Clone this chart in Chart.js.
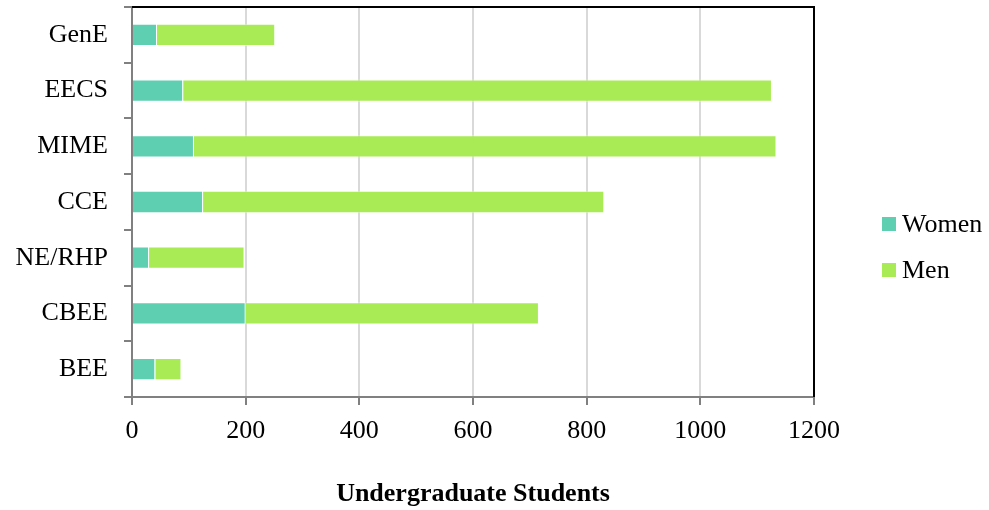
<!DOCTYPE html>
<html>
<head>
<meta charset="utf-8">
<script src="https://cdn.jsdelivr.net/npm/chart.js@4.4.0/dist/chart.umd.min.js"></script>
<style>
  html, body { margin: 0; padding: 0; background: #fff; }
  #wrap { width: 989px; height: 510px; }
</style>
</head>
<body>
<div id="wrap"><canvas id="chart"></canvas></div>
<script>
// Undergraduate enrollment by program, split by gender
const programs = ['GenE', 'EECS', 'MIME', 'CCE', 'NE/RHP', 'CBEE', 'BEE'];
const women = [44, 90, 109, 125, 30, 200, 41];
const men = [208, 1036, 1025, 706, 168, 516, 46];
const xTicks = [0, 200, 400, 600, 800, 1000, 1200];

const SERIF = "'Liberation Serif', 'Times New Roman', serif";

// Frame (top/right in black) and a plain square-marker legend at the side
const frameAndLegend = {
  id: 'frameAndLegend',
  afterDraw(chart) {
    const { ctx, chartArea: a } = chart;
    ctx.save();
    ctx.strokeStyle = '#000';
    ctx.lineWidth = 2;
    ctx.beginPath();
    ctx.moveTo(a.left, a.top);
    ctx.lineTo(a.right, a.top);
    ctx.lineTo(a.right, a.bottom);
    ctx.stroke();

    const x = a.right + 68;
    let y = 224;
    ctx.font = '26px ' + SERIF;
    ctx.textBaseline = 'middle';
    ctx.textAlign = 'left';
    chart.data.datasets.forEach(ds => {
      ctx.fillStyle = ds.backgroundColor;
      ctx.fillRect(x, y - 7, 14, 14);
      ctx.fillStyle = '#000';
      ctx.fillText(ds.label, x + 20, y + 1);
      y += 46;
    });
    ctx.restore();
  }
};

new Chart(document.getElementById('chart'), {
  type: 'bar',
  data: {
    labels: programs,
    datasets: [
      {
        label: 'Women',
        data: women,
        backgroundColor: '#5ecfb1',
        borderColor: 'rgba(255,255,255,0.5)',
        borderWidth: 1,
        barPercentage: 0.4,
        categoryPercentage: 1
      },
      {
        label: 'Men',
        data: men,
        backgroundColor: '#a8eb55',
        borderColor: 'rgba(255,255,255,0.5)',
        borderWidth: 1,
        barPercentage: 0.4,
        categoryPercentage: 1
      }
    ]
  },
  options: {
    indexAxis: 'y',
    responsive: true,
    maintainAspectRatio: false,
    animation: false,
    layout: { padding: { top: 7, right: 175, left: 0, bottom: 0 } },
    plugins: {
      legend: { display: false },
      tooltip: { enabled: false }
    },
    scales: {
      x: {
        stacked: true,
        min: 0,
        max: 1200,
        afterBuildTicks(scale) {
          scale.ticks = xTicks.map(v => ({ value: v }));
        },
        afterFit(scale) { scale.height = 113; },
        grid: {
          color: '#d9d9d9',
          lineWidth: 2,
          tickColor: '#808080',
          tickLength: 8,
          tickWidth: 2
        },
        border: { color: '#808080', width: 2 },
        ticks: {
          color: '#000',
          padding: 11,
          maxRotation: 0,
          callback: v => String(v),
          font: { family: SERIF, size: 26 }
        },
        title: {
          display: true,
          text: 'Undergraduate Students',
          color: '#000',
          padding: { top: 0, bottom: 0 },
          font: { family: SERIF, size: 26, weight: 'bold' }
        }
      },
      y: {
        stacked: true,
        afterFit(scale) {
          scale.width = 132;
          scale.paddingTop = 0;
          scale.paddingBottom = 0;
        },
        grid: {
          drawOnChartArea: false,
          offset: true,
          color: '#808080',
          lineWidth: 2,
          tickLength: 8
        },
        border: { color: '#808080', width: 2 },
        ticks: {
          color: '#000',
          padding: 16,
          font: { family: SERIF, size: 26 }
        }
      }
    }
  },
  plugins: [frameAndLegend]
});
</script>
</body>
</html>
